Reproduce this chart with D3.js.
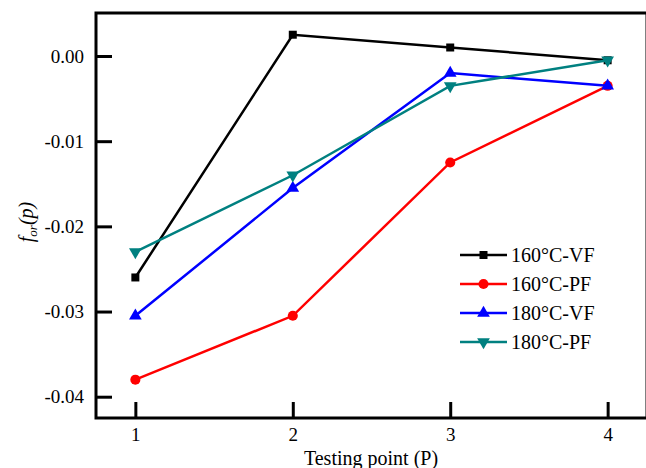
<!DOCTYPE html>
<html><head><meta charset="utf-8">
<script src="https://cdn.jsdelivr.net/npm/d3@7"></script>
<style>body{margin:0;background:#fff}svg{display:block}</style>
</head><body><svg id="c" width="646" height="468"></svg>
<script>
const categories = [1, 2, 3, 4];
const yTicks = [0, -0.01, -0.02, -0.03, -0.04];
const yTickLabels = ["0.00", "-0.01", "-0.02", "-0.03", "-0.04"];
const seriesNames = ["160°C-VF", "160°C-PF", "180°C-VF", "180°C-PF"];
const vf160 = [-0.026, 0.0025, 0.001, -0.0005];
const pf160 = [-0.038, -0.0305, -0.0125, -0.0035];
const vf180 = [-0.0305, -0.0155, -0.002, -0.0035];
const pf180 = [-0.023, -0.014, -0.0035, -0.0005];
const colors = ["#000000", "#ff0000", "#0000ff", "#008080"];
const symbols = [d3.symbolSquare, d3.symbolCircle, d3.symbolTriangle, "down"];
const seriesValues = [vf160, pf160, vf180, pf180];

const svg = d3.select("#c");
const L = 96, T = 13, R = 647, B = 418;
const x = d3.scaleLinear().domain([0.75, 4.25]).range([L, R]);
const y = d3.scaleLinear().domain([-0.0425, 0.00505]).range([B, T]);
const font = "'Liberation Serif','Times New Roman',serif";

// frame
svg.append("rect").attr("x", L).attr("y", T).attr("width", R - L).attr("height", B - T)
  .attr("fill", "none").attr("stroke", "#000").attr("stroke-width", 3);

// axes
const yAxis = d3.axisLeft(y).tickValues(yTicks).tickSize(-16).tickPadding(12)
  .tickFormat((d, i) => yTickLabels[i]);
const gy = svg.append("g").attr("transform", `translate(${L},0)`).call(yAxis);
const xAxis = d3.axisBottom(x).tickValues(categories).tickSize(-16).tickPadding(10).tickFormat(d3.format("d"));
const gx = svg.append("g").attr("transform", `translate(0,${B})`).call(xAxis);
[gy, gx].forEach(g => {
  g.attr("font-family", null).attr("font-size", null);
  g.select(".domain").remove();
  g.selectAll(".tick line").attr("stroke", "#000").attr("stroke-width", 3);
  g.selectAll(".tick text").style("font-family", font).style("font-size", "19px").attr("fill", "#000");
});

function symPath(s, size) {
  if (s === "down") return d3.symbol(d3.symbolTriangle, size)();
  return d3.symbol(s, size)();
}
const sizes = [64, 80, 70, 70];

// series
seriesValues.forEach((vals, i) => {
  const line = d3.line().x((d, j) => x(categories[j])).y(d => y(d));
  svg.append("path").datum(vals).attr("d", line).attr("fill", "none")
    .attr("stroke", colors[i]).attr("stroke-width", 2.5);
  svg.append("g").selectAll("path").data(vals).join("path")
    .attr("d", symPath(symbols[i], sizes[i]))
    .attr("transform", (d, j) => `translate(${x(categories[j])},${y(d)})` + (symbols[i] === "down" ? " rotate(180)" : ""))
    .attr("fill", colors[i]);
});

// legend
const lg = svg.append("g");
seriesNames.forEach((n, i) => {
  const yy = 255 + i * 29;
  lg.append("line").attr("x1", 460).attr("x2", 507).attr("y1", yy).attr("y2", yy)
    .attr("stroke", colors[i]).attr("stroke-width", 2.5);
  lg.append("path").attr("d", symPath(symbols[i], sizes[i]))
    .attr("transform", `translate(483.5,${yy})` + (symbols[i] === "down" ? " rotate(180)" : ""))
    .attr("fill", colors[i]);
  lg.append("text").attr("x", 511).attr("y", yy).attr("dy", "0.35em")
    .style("font-family", font).style("font-size", "20px").text(n);
});

// titles
svg.append("text").attr("x", 371).attr("y", 465).attr("text-anchor", "middle")
  .style("font-family", font).style("font-size", "20px").text("Testing point (P)");
const yt = svg.append("text").attr("transform", "translate(33,222) rotate(-90)").attr("text-anchor", "middle")
  .style("font-family", font).style("font-size", "20px").style("font-style", "italic");
yt.append("tspan").text("f");
yt.append("tspan").style("font-size", "13px").attr("dy", 4).text("or");
yt.append("tspan").attr("dy", -4).text("(p)");
</script></body></html>
